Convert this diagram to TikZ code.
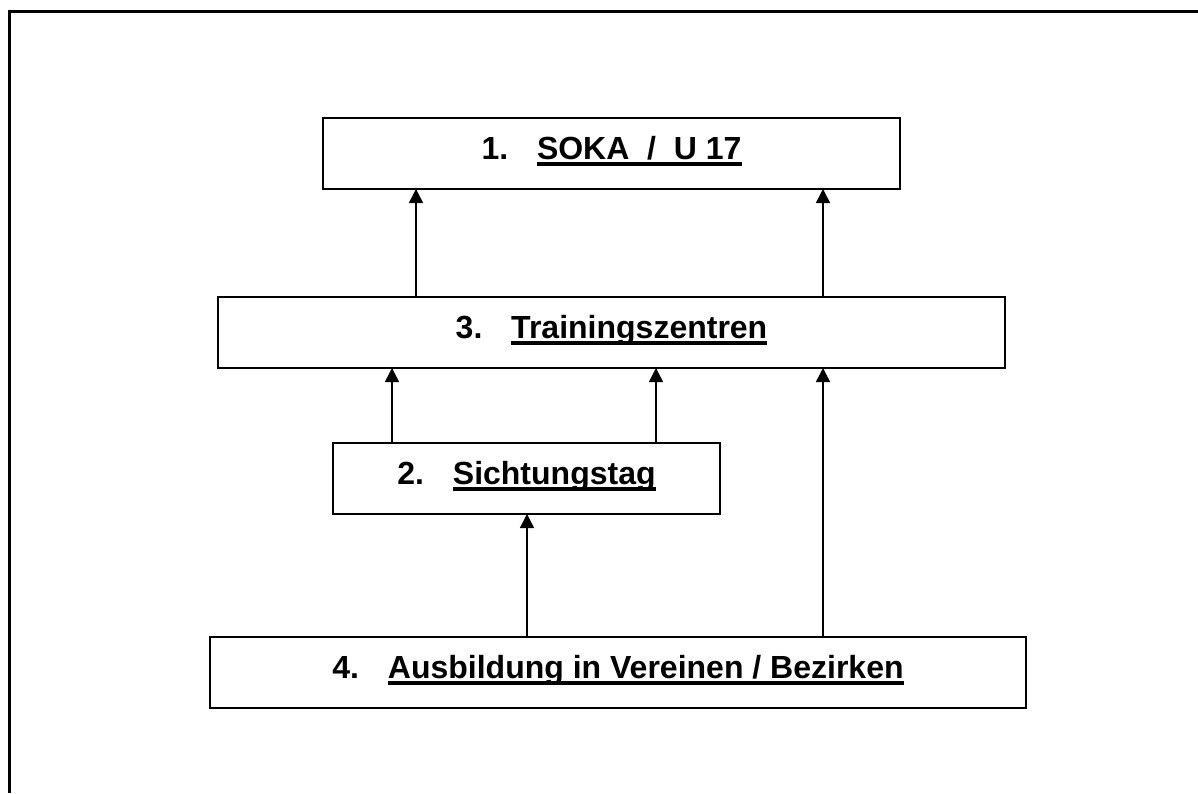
\documentclass[tikz,border=0pt]{standalone}
\usepackage{fontspec}
\setmainfont{Liberation Sans}
\usetikzlibrary{arrows.meta}
\tikzset{
  lvbox/.style={draw, line width=2pt, inner sep=0pt, outer sep=0pt,
    text height=41pt, text depth=30pt, align=center,
    font=\fontsize{32}{38}\selectfont\bfseries},
  arr/.style={line width=1.5pt, -{Triangle[width=14pt,length=14pt]}},
  frameline/.style={line width=3.5pt}
}
\newcommand\lvul[1]{\setbox0\hbox{#1}\rlap{\rule[-6.5pt]{\wd0}{3.2pt}}\box0}
\newcommand\lvlabel[2]{#1\hspace{0.9em}\lvul{#2}}
\begin{document}
\begin{tikzpicture}[x=1pt,y=-1pt]
\useasboundingbox (0,0) rectangle (1198,793);
\draw[frameline] (9.5,793) -- (9.5,11.5) -- (1198,11.5);
\node[lvbox, minimum width=577pt] (b1) at (611.5,118) [anchor=north] {\lvlabel{1.}{SOKA\ \ /\ \ U 17}};
\node[lvbox, minimum width=787pt] (b3) at (611.5,297) [anchor=north] {\lvlabel{3.}{Trainingszentren}};
\node[lvbox, minimum width=387pt] (b2) at (526.5,443) [anchor=north] {\lvlabel{2.}{Sichtungstag}};
\node[lvbox, minimum width=816pt] (b4) at (618,637) [anchor=north] {\lvlabel{4.}{Ausbildung in Vereinen / Bezirken}};
\coordinate (xa) at (416,0);
\coordinate (xb) at (823,0);
\coordinate (xc) at (392,0);
\coordinate (xd) at (656,0);
\coordinate (xe) at (527,0);
\draw[arr] (xa |- b3.north) -- (xa |- b1.south);
\draw[arr] (xb |- b3.north) -- (xb |- b1.south);
\draw[arr] (xc |- b2.north) -- (xc |- b3.south);
\draw[arr] (xd |- b2.north) -- (xd |- b3.south);
\draw[arr] (xe |- b4.north) -- (xe |- b2.south);
\draw[arr] (xb |- b4.north) -- (xb |- b3.south);
\end{tikzpicture}
\end{document}
